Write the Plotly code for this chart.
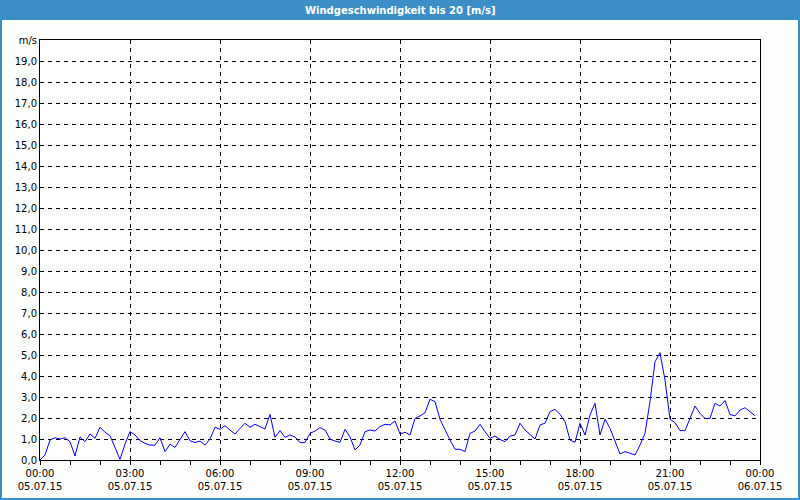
import pandas as pd
import plotly.graph_objects as go

# 10-minute wind speed samples, 05.07.15 00:00 .. 23:50 (m/s)
wind_speed = [
    0.00, 0.24, 0.95, 1.06, 1.00, 1.06, 0.87, 0.19, 1.10, 0.87, 1.24, 1.03,
    1.56, 1.32, 1.16, 0.56, 0.03, 0.76, 1.35, 1.19, 0.92, 0.79, 0.71, 0.71,
    1.06, 0.40, 0.75, 0.60, 1.00, 1.35, 0.92, 0.83, 0.90, 0.71, 1.00, 1.56,
    1.46, 1.63, 1.43, 1.24, 1.50, 1.75, 1.56, 1.70, 1.59, 1.48, 2.17, 1.08,
    1.40, 1.08, 1.19, 1.10, 0.83, 0.83, 1.27, 1.38, 1.54, 1.43, 1.00, 0.90,
    0.84, 1.46, 1.10, 0.48, 0.71, 1.35, 1.43, 1.38, 1.59, 1.70, 1.67, 1.86,
    1.24, 1.32, 1.19, 1.98, 2.10, 2.25, 2.89, 2.78, 1.94, 1.43, 0.95, 0.51,
    0.51, 0.40, 1.27, 1.38, 1.70, 1.35, 1.03, 1.14, 0.98, 0.87, 1.14, 1.19,
    1.75, 1.43, 1.19, 1.00, 1.67, 1.75, 2.30, 2.41, 2.17, 1.83, 0.95, 0.84,
    1.75, 1.19, 2.14, 2.70, 1.19, 1.94, 1.51, 0.87, 0.29, 0.40, 0.32, 0.24,
    0.71, 1.27, 2.78, 4.68, 5.11, 3.81, 1.94, 1.78, 1.40, 1.40, 1.98, 2.57,
    2.22, 1.98, 1.98, 2.70, 2.57, 2.83, 2.17, 2.10, 2.38, 2.49, 2.30, 2.11,
]
times = pd.date_range("2015-07-05 00:00", periods=len(wind_speed), freq="10min")

x_tick_times = ["2015-07-05 00:00", "2015-07-05 03:00", "2015-07-05 06:00",
                "2015-07-05 09:00", "2015-07-05 12:00", "2015-07-05 15:00",
                "2015-07-05 18:00", "2015-07-05 21:00", "2015-07-06 00:00"]
x_tick_labels = ["00:00<br>05.07.15", "03:00<br>05.07.15", "06:00<br>05.07.15",
                 "09:00<br>05.07.15", "12:00<br>05.07.15", "15:00<br>05.07.15",
                 "18:00<br>05.07.15", "21:00<br>05.07.15", "00:00<br>06.07.15"]
y_tick_vals = list(range(0, 21))
y_tick_labels = [f"{v},0" for v in range(0, 20)] + ["m/s"]

title_text = "Windgeschwindigkeit bis 20 [m/s]"

W, H = 800, 500
L, R, T, B = 40, 40, 40, 40
pw, ph = W - L - R, H - T - B

fig = go.Figure()
fig.add_trace(go.Scatter(x=times, y=wind_speed, mode="lines",
                         line=dict(color="#0000ff", width=1), showlegend=False))

font = dict(family="DejaVu Sans", size=10, color="#000000")

fig.update_layout(
    width=W, height=H,
    margin=dict(l=L, r=R, t=T, b=B, autoexpand=False),
    paper_bgcolor="#fcfefc",
    plot_bgcolor="#ffffff",
    font=font,
    xaxis=dict(
        range=["2015-07-05 00:00", "2015-07-06 00:00"],
        tickmode="array", tickvals=x_tick_times, ticktext=x_tick_labels,
        showgrid=True, gridcolor="#000000", gridwidth=1, griddash="4px,4px",
        showline=True, linecolor="#000000", linewidth=1, mirror=True,
        ticks="outside", ticklen=4, tickcolor="#000000",
        minor=dict(dtick=3600000, tick0="2015-07-05 00:00", ticks="outside",
                   ticklen=4, tickcolor="#000000", showgrid=False),
        zeroline=False, fixedrange=True, automargin=False,
    ),
    yaxis=dict(
        range=[0, 20],
        tickmode="array", tickvals=y_tick_vals, ticktext=y_tick_labels,
        showgrid=True, gridcolor="#000000", gridwidth=1, griddash="4px,4px",
        showline=True, linecolor="#000000", linewidth=1, mirror=True,
        ticks="", zeroline=False, fixedrange=True, automargin=False,
    ),
    shapes=[
        dict(type="rect", xref="paper", yref="paper",
             x0=-L / pw, x1=1 + R / pw, y0=1 + (T - 20) / ph, y1=1 + T / ph,
             fillcolor="#3c8fc6", line=dict(width=0), layer="below"),
        dict(type="rect", xref="paper", yref="paper",
             x0=-(L - 1) / pw, x1=1 + (R - 1) / pw, y0=-(B - 1) / ph, y1=1 + (T - 1) / ph,
             fillcolor="rgba(0,0,0,0)", line=dict(color="#3c8fc6", width=2)),
    ],
    annotations=[
        dict(text="<b>" + title_text + "</b>", xref="paper", yref="paper",
             x=0.5, y=1 + (T - 10) / ph, xanchor="center", yanchor="middle",
             showarrow=False, font=dict(family="DejaVu Sans", size=10, color="#ffffff")),
    ],
)

fig.write_html("out.html", config={"displayModeBar": False},
               post_script="document.body.style.margin='0px';")
